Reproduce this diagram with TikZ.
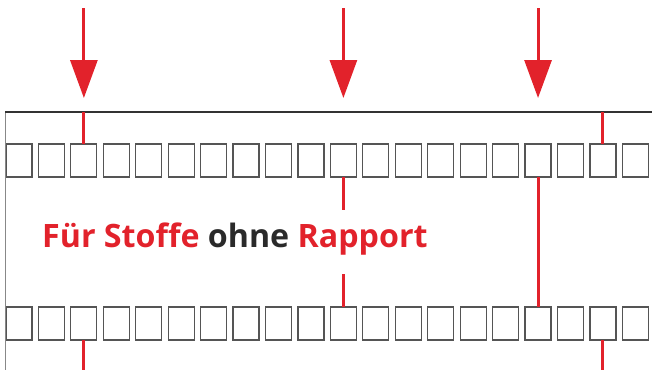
\documentclass[tikz,border=0pt]{standalone}
\usepackage{fontspec}
\setmainfont{Open Sans}
\usetikzlibrary{arrows.meta}
\definecolor{rred}{HTML}{E2222B}
\definecolor{dtext}{HTML}{2A2A2A}
\definecolor{boxgray}{HTML}{555555}
\definecolor{topgray}{HTML}{333333}
\definecolor{leftgray}{HTML}{888888}
\begin{document}
\begin{tikzpicture}[x=1pt,y=-1pt,
  box/.style={draw=boxgray, line width=1.2pt, minimum width=26pt, minimum height=33pt, inner sep=0pt, outer sep=0pt, anchor=north west},
  redline/.style={draw=rred, line width=3pt},
  arr/.style={draw=rred, line width=3pt, -{Triangle[width=27pt,length=38pt]}}]
\useasboundingbox (0,0) rectangle (652,370);
\foreach \i in {0,...,19} {
  \node[box] (t\i) at ({6+\i*32.44},144) {};
  \node[box] (b\i) at ({6+\i*32.44},307) {};
}
\coordinate (tl) at (5,112);
\coordinate (tr) at (652,112);
\coordinate (bl) at (5,370);
\coordinate (ya) at (0,8);
\coordinate (yb) at (0,98);
\coordinate (g1) at (0,210);
\coordinate (g2) at (0,274);
\draw[leftgray, line width=1pt] (tl) -- (bl);
\draw[topgray, line width=2pt] (tl) -- (tr);
% red marks
\draw[redline] (t2.north |- tl) -- (t2.north);
\draw[redline] (t18.north |- tl) -- (t18.north);
\draw[redline] (b2.south) -- (b2.south |- bl);
\draw[redline] (b18.south) -- (b18.south |- bl);
\draw[redline] (t10.south) -- (t10.south |- g1);
\draw[redline] (b10.north |- g2) -- (b10.north);
\draw[redline] (t16.south) -- (b16.north);
% arrows
\draw[arr] (t2.north |- ya) -- (t2.north |- yb);
\draw[arr] (t10.north |- ya) -- (t10.north |- yb);
\draw[arr] (t16.north |- ya) -- (t16.north |- yb);
\node[anchor=base west, inner sep=0pt, font=\fontsize{32.2}{34}\selectfont\bfseries] (lbl) at (42,247) {\textcolor{rred}{Für Stoffe} \textcolor{dtext}{ohne} \textcolor{rred}{Rapport}};
\end{tikzpicture}
\end{document}
